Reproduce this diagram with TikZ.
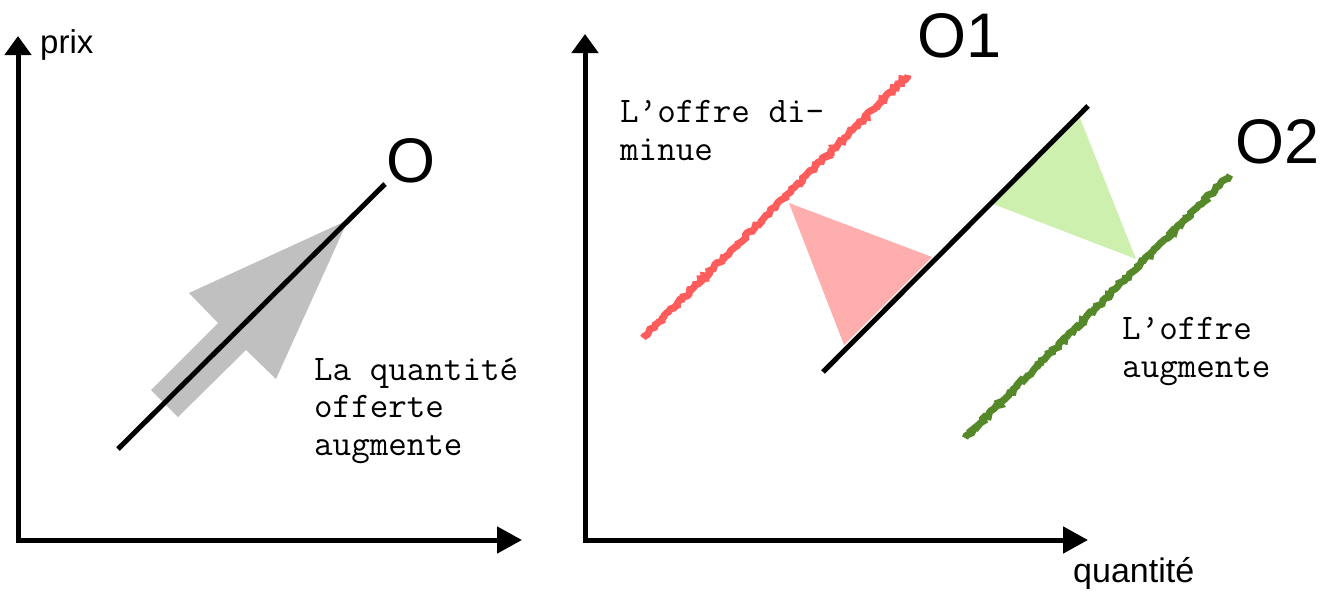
\documentclass[tikz,border=0pt]{standalone}
\usepackage{fontspec}
\setmainfont{Liberation Sans}
\usetikzlibrary{arrows.meta,decorations.pathmorphing}
\definecolor{myred}{RGB}{255,92,92}
\definecolor{mygreen}{RGB}{84,136,40}
\definecolor{mypink}{RGB}{255,174,174}
\definecolor{mylime}{RGB}{206,240,174}
\definecolor{mygray}{RGB}{192,192,192}
\tikzset{
    axis/.style={
        line width=5pt,
        line join=miter,
        {Triangle[length=19pt,width=26pt]}-{Triangle[length=25pt,width=26pt]}
    },
    curve/.style={line width=5pt, black},
    rough/.style={
        line width=7pt,
        decorate,
        decoration={random steps,segment length=2.5pt,amplitude=1.5pt}
    },
    lab/.style={anchor=base west, inner sep=0pt},
    big/.style={lab, font=\fontsize{63}{63}\selectfont},
    % base = last line
    note/.style={
        anchor=base west,
        inner sep=0pt,
        align=left,
        font=\ttfamily\fontsize{36}{37.5}\selectfont
    }
}

\begin{document}
\begin{tikzpicture}[x=1pt,y=-1pt]
\useasboundingbox (0,0) rectangle (1331,595);
\pgfmathsetseed{7}

% offre fixe
\coordinate (oL) at (18,540);
\coordinate (yL) at (18,36);
\coordinate (xL) at (522,540);
\draw[axis] (yL) -- (oL) -- (xL);
\node[lab, font=\fontsize{33}{33}\selectfont] (prix) at (40,53) {prix};

\fill[mygray] (348,220) -- (189,293) -- (218,323) -- (151,390)
    -- (178,417) -- (246,350) -- (276,379) -- cycle;
\coordinate (s0) at (118,449);
\coordinate (s1) at (385,184);
\draw[curve] (s0) -- (s1);
\node[big] (O) at (386,182) {O};
\node[note] (qte) at (314,455) {La quantité\\offerte\\augmente};

% deplacement de l'offre
\coordinate (oR) at (585,540);
\coordinate (yR) at (585,34);
\coordinate (xR) at (1088,540);
\draw[axis] (yR) -- (oR) -- (xR);
\node[lab, font=\fontsize{34}{34}\selectfont] (qty) at (1073,582) {quantité};

\fill[mypink] (789,203) -- (932,257) -- (844,345) -- cycle;
\fill[mylime] (993,204) -- (1080,118) -- (1136,259) -- cycle;

\coordinate (r0) at (643,338);
\coordinate (r1) at (908,75);
\draw[rough, myred] (r0) -- (r1);
\coordinate (g0) at (965,438);
\coordinate (g1) at (1230,175);
\draw[rough, mygreen] (g0) -- (g1);
\coordinate (b0) at (823,372);
\coordinate (b1) at (1088,106);
\draw[curve] (b0) -- (b1);

\node[big] (O1) at (917,57) {O1};
\node[big] (O2) at (1235,163) {O2};
\node[note] (dim) at (620,160) {L’offre di-\\minue};
\node[note] (aug) at (1122,377) {L’offre\\augmente};
\end{tikzpicture}
\end{document}
